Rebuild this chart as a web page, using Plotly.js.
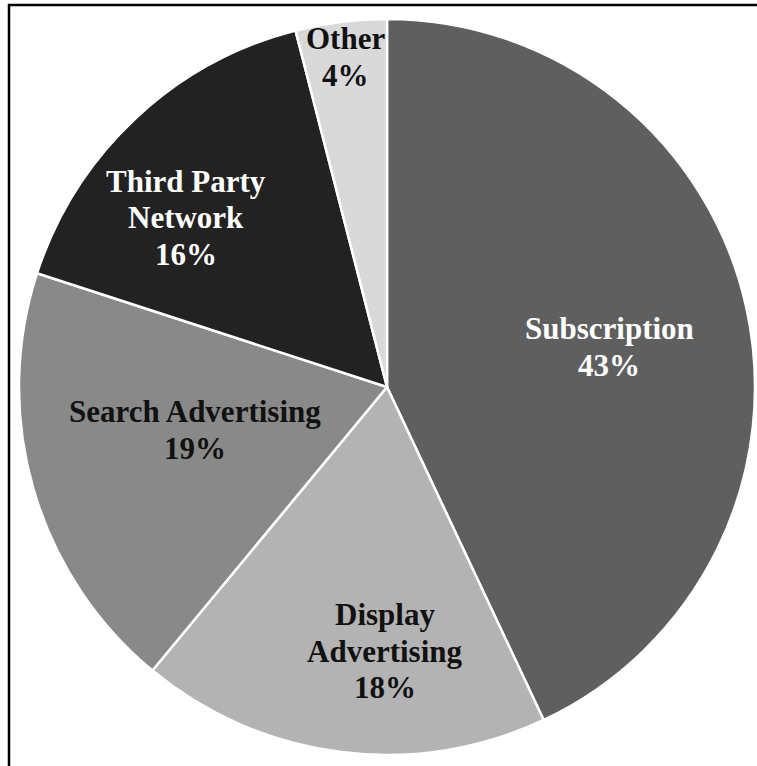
<!DOCTYPE html>
<html>
<head>
<meta charset="utf-8">
<script src="https://cdn.plot.ly/plotly-3.0.1.min.js"></script>
<style>html,body{margin:0;padding:0;background:#fff;}#chart{width:757px;height:766px;}</style>
</head>
<body>
<div id="chart"></div>
<script>
const labels = ["Subscription", "Display Advertising", "Search Advertising", "Third Party Network", "Other"];
const labelLines = [["Subscription"], ["Display", "Advertising"], ["Search Advertising"], ["Third Party", "Network"], ["Other"]];
const values = [43, 18, 19, 16, 4];
const colors = ["#5f5f5f", "#b3b3b3", "#898989", "#222222", "#d9d9d9"];
const textColors = ["#ffffff", "#111111", "#111111", "#ffffff", "#111111"];
// label block centres in pixel coordinates (layout only)
const labelPos = [[609, 347], [385, 651], [195, 430], [186, 218], [345, 57]];
const lineGap = 36.5;

const W = 757, H = 766;
const total = values.reduce((a, b) => a + b, 0);

const trace = {
  type: "pie",
  labels: labels,
  values: values,
  sort: false,
  direction: "clockwise",
  rotation: 0,
  marker: {colors: colors, line: {color: "#ffffff", width: 2.5}},
  textinfo: "none",
  hoverinfo: "label+percent",
  domain: {x: [19 / W, 755 / W], y: [11 / H, 747 / H]},
  showlegend: false
};

const annotations = [];
labels.forEach((l, i) => {
  const lines = labelLines[i].concat([Math.round(values[i] / total * 100) + "%"]);
  const n = lines.length;
  lines.forEach((t, k) => {
    const py = labelPos[i][1] + (k - (n - 1) / 2) * lineGap;
    annotations.push({
      xref: "paper", yref: "paper",
      x: labelPos[i][0] / W, y: 1 - py / H,
      xanchor: "center", yanchor: "middle",
      showarrow: false,
      text: "<b>" + t + "</b>",
      font: {family: "Liberation Serif, Times New Roman, serif", size: 31, color: textColors[i]}
    });
  });
});

const layout = {
  width: W, height: H,
  margin: {l: 0, r: 0, t: 0, b: 0},
  paper_bgcolor: "#ffffff",
  annotations: annotations,
  shapes: [
    {type: "line", xref: "paper", yref: "paper", x0: 8 / W, x1: 1, y0: 1 - 5 / H, y1: 1 - 5 / H, line: {color: "#000", width: 2.5}},
    {type: "line", xref: "paper", yref: "paper", x0: 9 / W, x1: 9 / W, y0: 0, y1: 1 - 4 / H, line: {color: "#000", width: 2.5}}
  ]
};

Plotly.newPlot("chart", [trace], layout, {displayModeBar: false, staticPlot: true});
</script>
</body>
</html>
